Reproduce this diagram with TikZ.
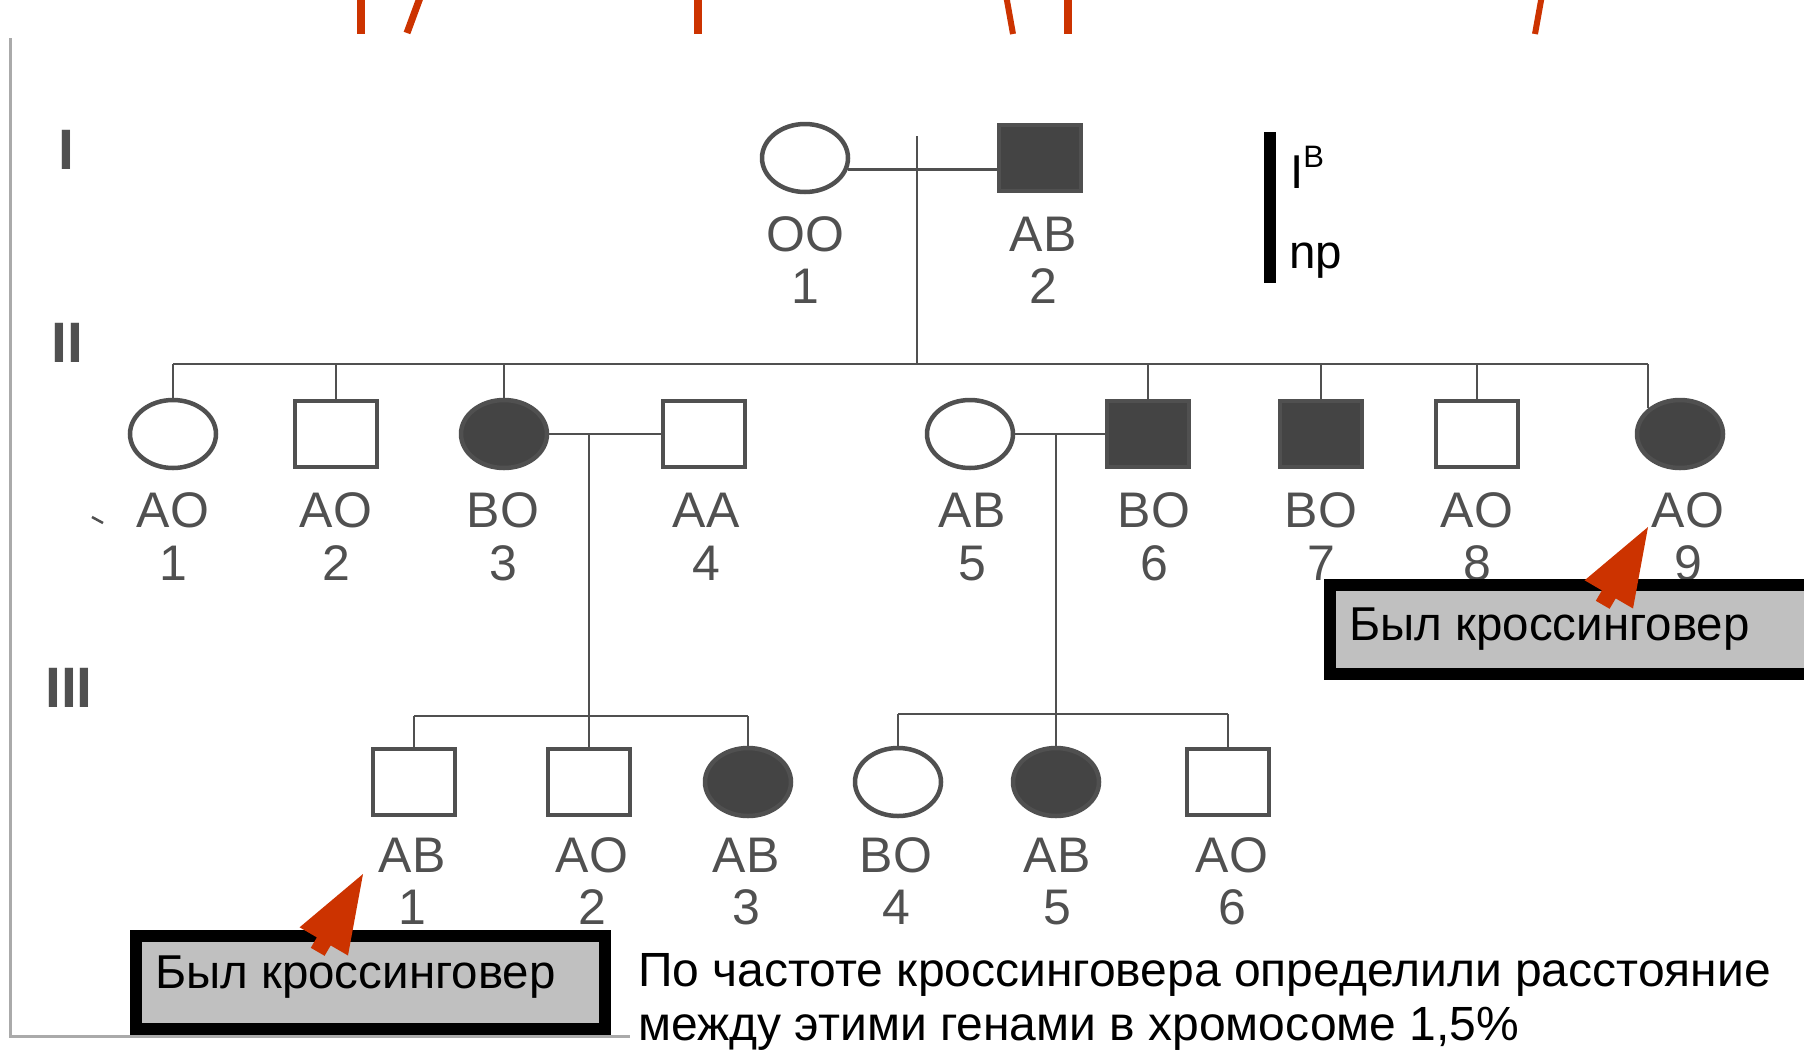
\documentclass[tikz,border=0pt]{standalone}
\usepackage{fontspec}
\setmainfont{Liberation Sans}
\usetikzlibrary{shapes.geometric,positioning,calc}

\definecolor{pedline}{HTML}{505050}
\definecolor{pedfill}{HTML}{444444}
\definecolor{boxgray}{HTML}{C0C0C0}
\definecolor{callred}{HTML}{CC3300}
\definecolor{framegray}{HTML}{AAAAAA}

% red block arrow, tip given as named coordinate
\newcommand{\callout}[1]{\fill[callred] (#1) -- ++(-15.0,81.5) -- ++(-17.3,-10.1) -- ++(-6.1,10.4) -- ++(-13.8,-8.0) -- ++(6.1,-10.4) -- ++(-17.3,-10.1) -- cycle;}

\begin{document}
\begin{tikzpicture}[x=1pt,y=-1pt,
fem/.style={ellipse,draw=pedline,line width=4.5pt,minimum width=86pt,minimum height=68pt,inner sep=0pt},
mal/.style={rectangle,draw=pedline,line width=4.5pt,minimum width=82pt,minimum height=66pt,inner sep=0pt},
lnk/.style={pedline,line width=2.5pt},
gen/.style={text=pedline,font=\fontsize{57}{57}\selectfont\bfseries},
lbl/.style={text=pedline,font=\fontsize{50}{50}\selectfont,anchor=base,inner sep=0pt},
note/.style={font=\fontsize{47.5}{47.5}\selectfont,anchor=base west,inner sep=0pt},
crossbox/.style={draw=black,line width=12pt,fill=boxgray}]

\useasboundingbox (0,0) rectangle (1804,1053);

% frame of the scan
\draw[framegray,line width=3pt] (10,38) -- (10,1036) -- (630,1036);

% cut-off title
\draw[callred,line width=8pt] (361,-5) -- (361,34);
\draw[callred,line width=7pt] (421,-5) -- (407,33);
\draw[callred,line width=8pt] (698,-5) -- (698,34);
\draw[callred,line width=6pt] (1006,-5) -- (1013,34);
\draw[callred,line width=8pt] (1068,-5) -- (1068,34);
\draw[callred,line width=6pt] (1542,-5) -- (1535,34);

% generations
\node[gen] (gI) at (66,150) {I};
\node[gen] (gII) at (67,343) {II};
\node[gen] (gIII) at (69,688) {III};

% generation I
\node[fem] (I1) at (805,158) {};
\node[mal,fill=pedfill] (I2) at (1040,158) {};
\draw[lnk] (I1.-15) -- (I2.west |- I1.-15);
\coordinate (d1) at (917,136);
\coordinate (s2) at (917,364);
\draw[lnk] (d1) -- (s2);

% generation II
\foreach \n/\x/\s/\f in {1/173/fem/white,2/336/mal/white,3/504/fem/pedfill,4/704/mal/white,5/970/fem/white,6/1148/mal/pedfill,7/1321/mal/pedfill,8/1477/mal/white,9/1680/fem/pedfill}
  \node[\s,fill=\f] (II\n) at (\x,434) {};
\draw[lnk] (II1.north |- s2) -- (II9.north west |- s2);
\foreach \n in {1,2,3,6,7,8}
  \draw[lnk] (II\n.north) -- (II\n.north |- s2);
\draw[lnk] (II9.north west) -- (II9.north west |- s2);
\draw[lnk] (II3.east) -- (II4.west);
\draw[lnk] (II5.east) -- (II6.west);
\coordinate (m34) at (589,434);

% generation III
\foreach \n/\x/\s/\f in {1/414/mal/white,2/589/mal/white,3/748/fem/pedfill,4/898/fem/white,5/1056/fem/pedfill,6/1228/mal/white}
  \node[\s,fill=\f] (III\n) at (\x,782) {};
\coordinate (s3l) at (589,716);
\coordinate (s3r) at (1056,714);
\draw[lnk] (m34) -- (III2.north);
\draw[lnk] (III1.north |- s3l) -- (III3.north |- s3l);
\draw[lnk] (III1.north) -- (III1.north |- s3l);
\draw[lnk] (III3.north) -- (III3.north |- s3l);
\draw[lnk] (III5.north |- II5.east) -- (III5.north);
\draw[lnk] (III4.north |- s3r) -- (III6.north |- s3r);
\draw[lnk] (III4.north) -- (III4.north |- s3r);
\draw[lnk] (III6.north) -- (III6.north |- s3r);

% genotypes and numbers
\foreach \n/\x/\g in {1/805/OO,2/1043/AB}{
  \node[lbl] (gtI\n) at (\x,251) {\g};
  \node[lbl] (nI\n) at (\x,303) {\n};}
\foreach \n/\x/\g in {1/173/AO,2/336/AO,3/503/BO,4/706/AA,5/972/AB,6/1154/BO,7/1321/BO,8/1477/AO,9/1688/AO}{
  \node[lbl] (gtII\n) at (\x,527) {\g};
  \node[lbl] (nII\n) at (\x,580) {\n};}
\foreach \n/\x/\g in {1/412/AB,2/592/AO,3/746/AB,4/896/BO,5/1057/AB,6/1232/AO}{
  \node[lbl] (gtIII\n) at (\x,872) {\g};
  \node[lbl] (nIII\n) at (\x,924) {\n};}
\draw[lnk] (92,517) -- (103,523);

% chromosome
\node[fill=black,minimum width=12pt,minimum height=151pt,inner sep=0pt] (chr) at (1270,207.5) {};
\node[note] (genI) at (1290,188) {I{\fontsize{31}{31}\selectfont\raisebox{21pt}{B}}};
\node[note] (genNp) at (1289,268) {np};

% crossing-over notes
\draw[crossbox] (1330,585) rectangle (1812,674);
\node[note] (cross9) at (1349,640) {Был кроссинговер};
\draw[crossbox] (136,936) rectangle (605,1029);
\node[note] (cross1) at (155,988) {Был кроссинговер};
\coordinate (tip9) at (1648,527);
\coordinate (tip1) at (363,874);
\callout{tip9}
\callout{tip1}

\node[note,font=\fontsize{48}{48}\selectfont] (dist1) at (638,986) {По частоте кроссинговера определили расстояние};
\node[note,font=\fontsize{48}{48}\selectfont] (dist2) at (638,1040) {между этими генами в хромосоме 1,5\%};
\end{tikzpicture}
\end{document}
